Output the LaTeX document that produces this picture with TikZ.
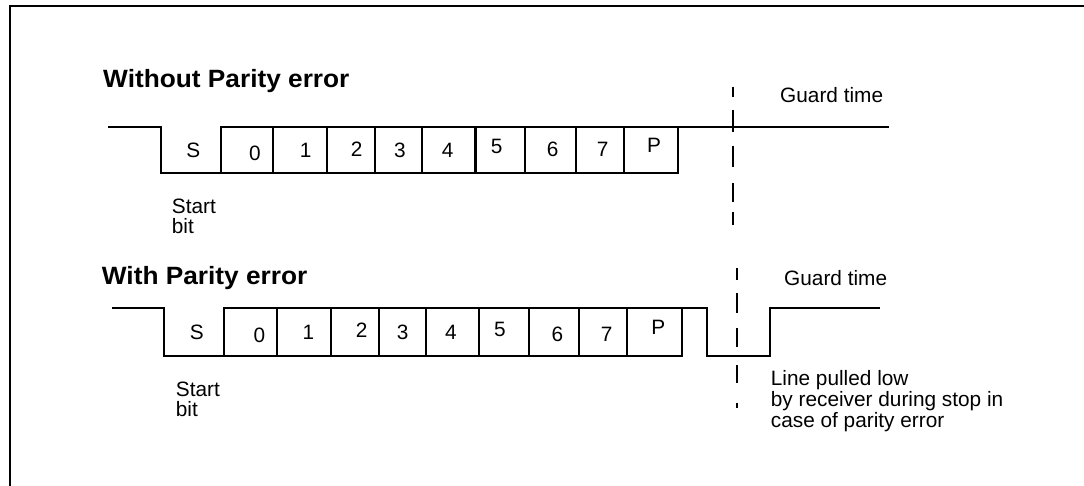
\documentclass[tikz,border=0pt]{standalone}
\usepackage{fontspec}
\setmainfont{Liberation Sans}
\newfontfamily\titlefont{Liberation Sans}[FakeStretch=1.05]
\begin{document}
\begin{tikzpicture}[x=1pt,y=-1pt,
  wave/.style={line width=2.2pt, line join=miter, line cap=rect},
  frame/.style={line width=2.4pt},
  guardA/.style={line width=2pt, dash pattern=on 10pt off 13.3pt on 21.7pt off 14.3pt on 20.7pt off 16.3pt on 18.7pt off 10pt on 13.3pt off 20pt},
  guardB/.style={line width=2pt, dash pattern=on 12pt off 13pt on 20pt off 15pt on 19pt off 18pt on 18pt off 20pt on 5pt off 20pt},
  bit/.style={inner sep=0pt, font=\fontsize{20.8}{24}\selectfont},
  lbl/.style={inner sep=0pt, anchor=base west, font=\fontsize{20.8}{20.6}\selectfont, align=left},
  ttl/.style={inner sep=0pt, anchor=base west, font=\titlefont\bfseries\fontsize{25}{28}\selectfont}]
\useasboundingbox (0,0) rectangle (1084,486);
% frame
\draw[frame] (10,490) -- (10,6) -- (1090,6);

% ---------- Without parity error ----------
\node[ttl] (t1) at (103,87.5) {Without Parity error};
\draw[wave] (109,126.7) -- (160.7,126.7) -- (160.7,172.7) -- (678.3,172.7) -- (678.3,126.7);
\draw[wave] (220.7,172.7) -- (220.7,126.7) -- (887.7,126.7);
\foreach \x in {272.7,326.7,375,422.3,475.5,525,576,624}
  \draw[wave] (\x,126.7) -- (\x,172.7);
\node[bit] (s1) at (193.3,150) {S};
\node[bit] (a0) at (255,153) {0};
\node[bit] (a1) at (305.7,150) {1};
\node[bit] (a2) at (356.7,149.5) {2};
\node[bit] (a3) at (400,150) {3};
\node[bit] (a4) at (447.7,150) {4};
\node[bit] (a5) at (496.7,146.7) {5};
\node[bit] (a6) at (552.7,149) {6};
\node[bit] (a7) at (602.7,149) {7};
\node[bit] (ap) at (654,145) {P};
\node[lbl] (sb1) at (171.7,234) {Start\\bit};
\node[lbl] (g1) at (780,102.7) {Guard time};
\coordinate (d1a) at (732.7,86.7);
\coordinate (d1b) at (732.7,225);
\draw[guardA] (d1a) -- (d1b);

% ---------- With parity error ----------
\node[ttl] (t2) at (101.7,284) {With Parity error};
\draw[wave] (112.7,308.3) -- (164,308.3) -- (164,356) -- (682,356) -- (682,308.3);
\draw[wave] (224.3,356) -- (224.3,308.3) -- (706.7,308.3) -- (706.7,356) -- (769.7,356) -- (769.7,308.3) -- (879.3,308.3);
\foreach \x in {277.3,330.7,379.3,426,479,529,579,626.7}
  \draw[wave] (\x,308.3) -- (\x,356);
\node[bit] (s2) at (196.7,332.5) {S};
\node[bit] (b0) at (259.3,335) {0};
\node[bit] (b1) at (308.3,332.5) {1};
\node[bit] (b2) at (361.7,330) {2};
\node[bit] (b3) at (402.7,332.5) {3};
\node[bit] (b4) at (451,332.5) {4};
\node[bit] (b5) at (500,329) {5};
\node[bit] (b6) at (557.3,334) {6};
\node[bit] (b7) at (606.7,334) {7};
\node[bit] (bp) at (658.3,327) {P};
\node[lbl] (sb2) at (175.7,416.7) {Start\\bit};
\node[lbl] (g2) at (784,286) {Guard time};
\node[lbl] (lp) at (770.7,427) {Line pulled low\\by receiver during stop in\\case of parity error};
\coordinate (d2a) at (736.7,268.3);
\coordinate (d2b) at (736.7,408.3);
\draw[guardB] (d2a) -- (d2b);
\end{tikzpicture}
\end{document}
